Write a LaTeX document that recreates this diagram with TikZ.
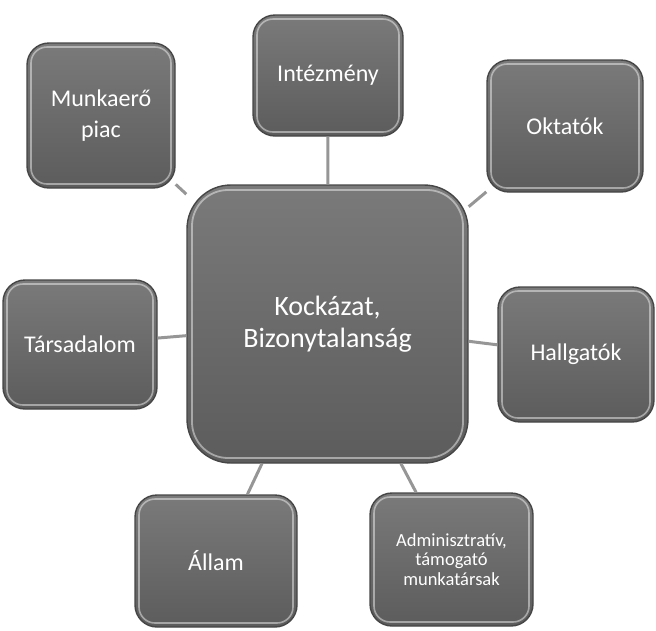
\documentclass[tikz,border=0pt]{standalone}
\usepackage{fontspec}
\setmainfont{Carlito}
\definecolor{boxtop}{RGB}{122,122,122}
\definecolor{boxbot}{RGB}{92,92,92}
\definecolor{boxedge}{RGB}{70,70,70}
\definecolor{linkgray}{RGB}{150,150,150}
\begin{document}
\begin{tikzpicture}[x=1pt,y=-1pt,
  boxbase/.style={rectangle, inner sep=0pt, top color=boxtop, bottom color=boxbot,
    draw=boxedge, line width=1.4pt, text=white, align=center,
    font=\fontsize{24}{31}\selectfont},
  satbox/.style={boxbase, rounded corners=22pt,
    path picture={\draw[white,opacity=.45,line width=1.6pt,rounded corners=16pt]
      ([shift={(4pt,4pt)}]path picture bounding box.south west) rectangle
      ([shift={(-4pt,-4pt)}]path picture bounding box.north east);}},
  hubbox/.style={boxbase, rounded corners=44pt, font=\fontsize{28}{32}\selectfont,
    path picture={\draw[white,opacity=.45,line width=1.8pt,rounded corners=36pt]
      ([shift={(5pt,5pt)}]path picture bounding box.south west) rectangle
      ([shift={(-5pt,-5pt)}]path picture bounding box.north east);}},
  link/.style={draw=linkgray, line width=3pt}
]
\useasboundingbox (0,0) rectangle (656,630);
\node[hubbox, minimum width=281pt, minimum height=278pt] (hub) at (327.5,324) {Kockázat,\\Bizonytalanság};
\node[satbox, minimum width=148pt, minimum height=145pt] (munka) at (101,115.5) {Munkaerő\\piac};
\node[satbox, minimum width=150pt, minimum height=121pt] (intez) at (328,75.5) {Intézmény};
\node[satbox, minimum width=156pt, minimum height=132pt] (oktat) at (565,126) {Oktatók};
\node[satbox, minimum width=156pt, minimum height=135pt] (hallg) at (576,354.5) {Hallgatók};
\node[satbox, minimum width=154pt, minimum height=129pt] (tarsa) at (80,344.5) {Társadalom};
\node[satbox, minimum width=162pt, minimum height=132pt] (allam) at (216,561) {Állam};
\node[satbox, minimum width=163pt, minimum height=133pt, font=\fontsize{18.5}{19.5}\selectfont] (admin) at (451.5,559.5) {Adminisztratív,\\támogató\\munkatársak};
\foreach \s in {munka,intez,oktat,hallg,tarsa,allam,admin}
  \draw[link] (\s) -- (hub);
\end{tikzpicture}
\end{document}
